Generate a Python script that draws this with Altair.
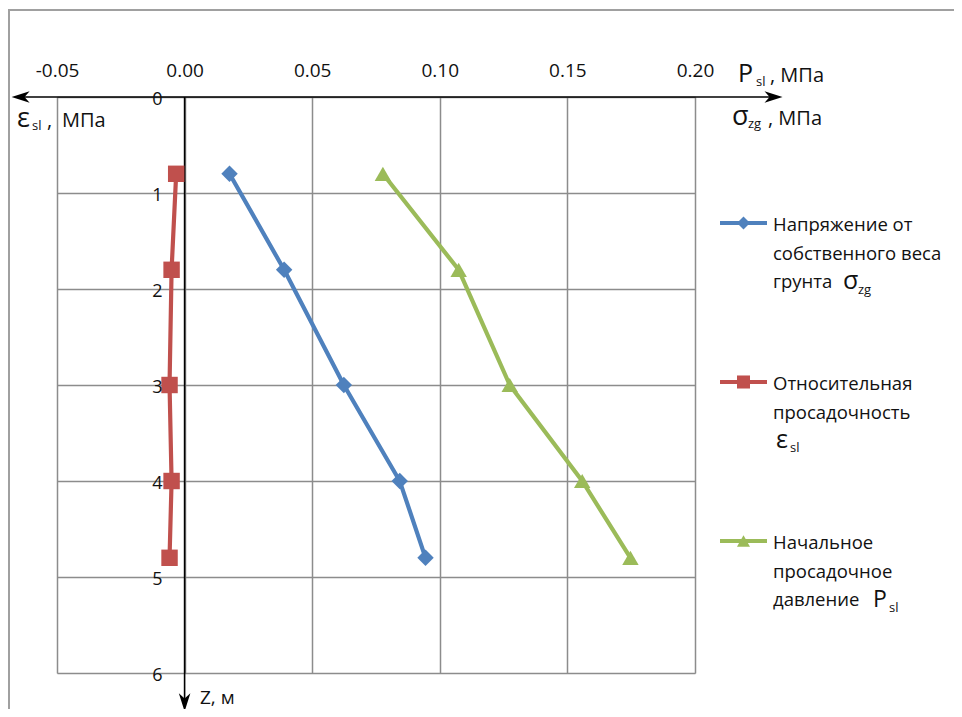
import altair as alt
import pandas as pd

# ---------------- data ----------------
depth = [0.8, 1.8, 3.0, 4.0, 4.8]                       # Z, m
sigma_zg = [0.0176, 0.0390, 0.0624, 0.0843, 0.0944]      # MPa
eps_sl = [-0.0033, -0.0051, -0.0059, -0.0051, -0.0059]
p_sl = [0.0777, 0.1074, 0.1274, 0.1558, 0.1747]          # MPa

series_keys = ["sigma", "eps", "psl"]
legend_lines = [
    ["Напряжение  от", "собственного веса", "грунта"],
    ["Относительная", "просадочность"],
    ["Начальное", "просадочное", "давление"],
]
legend_symbols = [("σ", "zg"), ("ε", "sl"), ("P", "sl")]
colors = ["#4F81BD", "#C0504D", "#9BBB59"]
shapes = ["diamond", "square", "triangle-up"]

x_ticks = [-0.05, 0.0, 0.05, 0.10, 0.15, 0.20]
y_ticks = [0, 1, 2, 3, 4, 5, 6]

FONT = "Open Sans"

rows = []
for key, vals in zip(series_keys, [sigma_zg, eps_sl, p_sl]):
    for z, v in zip(depth, vals):
        rows.append({"series": key, "x": v, "z": z})
df = pd.DataFrame(rows)

xs = alt.Scale(domain=[-0.05, 0.20], nice=False, zero=False)
ys = alt.Scale(domain=[0, 6], nice=False, zero=False, reverse=True)
cscale = alt.Scale(domain=series_keys, range=colors)
sscale = alt.Scale(domain=series_keys, range=shapes)
GRID = "#8c8c8c"

label_expr = ("datum.value < 0 ? '-' + format(-datum.value, '.2f') : "
              "format(datum.value, '.2f')")

main_x = alt.X("x:Q", scale=xs, title=None,
               axis=alt.Axis(orient="top", values=x_ticks, grid=True,
                             gridColor=GRID, gridWidth=1.5, gridOpacity=1,
                             domain=False, ticks=False, tickSize=0,
                             labelPadding=17, labelFontSize=19,
                             labelFont=FONT, labelColor="#111",
                             labelFlush=False, labelOverlap=False,
                             labelBound=False,
                             labelExpr=label_expr, title=None))
main_y = alt.Y("z:Q", scale=ys, title=None,
               axis=alt.Axis(values=y_ticks, grid=True, gridColor=GRID,
                             gridWidth=1.5, gridOpacity=1, labels=False,
                             domain=False, ticks=False, title=None))

lines = alt.Chart(df).mark_line(strokeWidth=4.2).encode(
    x=main_x, y=main_y,
    color=alt.Color("series:N", scale=cscale, legend=None),
    order=alt.Order("z:Q"),
)
points = alt.Chart(df).mark_point(filled=True, opacity=1, size=270).encode(
    x=alt.X("x:Q", title=None), y=alt.Y("z:Q", title=None),
    color=alt.Color("series:N", scale=cscale, legend=None),
    shape=alt.Shape("series:N", scale=sscale, legend=None),
)

one = pd.DataFrame({"d": [0]})

# axis arrows (black) through the data scales
h_rule = alt.Chart(one).mark_rule(color="black", strokeWidth=1.6).encode(
    x=alt.X(datum=-0.064), x2=alt.X2(datum=0.230), y=alt.Y(datum=0))
v_rule = alt.Chart(one).mark_rule(color="black", strokeWidth=1.6).encode(
    x=alt.X(datum=0), y=alt.Y(datum=0), y2=alt.Y2(datum=6.33))

ARROW = "M0,0L-1,-0.32L-0.72,0L-1,0.32Z"


def arrow_head(xd, yd, ang):
    return alt.Chart(one).mark_point(
        shape=ARROW, filled=True, color="black", opacity=1, size=1300,
        angle=ang, strokeWidth=0).encode(
        x=alt.X(datum=xd), y=alt.Y(datum=yd))


arrows = [arrow_head(-0.0678, 0, 180), arrow_head(0.2343, 0, 0),
          arrow_head(0, 6.4, 90)]

# y tick labels along the Z axis (x = 0)
ylab = alt.Chart(pd.DataFrame({"z": y_ticks})).mark_text(
    align="right", baseline="middle", dx=-22, dy=3, fontSize=18,
    font=FONT, color="#111").encode(
    x=alt.X(datum=0), y=alt.Y("z:Q", title=None), text=alt.Text("z:Q"))


def label(text, x, y, size, baseline="alphabetic", align="left"):
    return alt.Chart(pd.DataFrame({"t": [text]})).mark_text(
        align=align, baseline=baseline, fontSize=size, font=FONT,
        color="#111").encode(x=alt.value(x), y=alt.value(y), text="t:N")


# axis titles (pixel offsets from the plot origin)
titles = [
    label("P", 681, -15, 25), label("sl", 699, -11, 13),
    label(", МПа", 713, -15, 20),
    label("σ", 675, 28, 27), label("zg", 691, 31, 13),
    label(", МПа", 711, 28, 20),
    label("ε", -40, 30, 27), label("sl", -25, 33, 13),
    label(",", -10, 30, 20), label("МПа", 5, 30, 20),
    label("Z, м", 143, 601, 19, baseline="middle"),
]

# legend
leg_layers = []
LEG_Y0, LEG_STEP, LINE_H = 126, 159, 28.5
sym_x = [786, 719, 816]
sym_size = [25, 25, 23]
sub_dx = [15, 14, 16]
sub_dy = [5, 4, 5]
for i, key in enumerate(series_keys):
    ly = LEG_Y0 + LEG_STEP * i
    d = pd.DataFrame({"series": [key]})
    leg_layers.append(alt.Chart(d).mark_rule(strokeWidth=4).encode(
        x=alt.value(663), x2=alt.value(710), y=alt.value(ly),
        color=alt.Color("series:N", scale=cscale, legend=None)))
    leg_layers.append(alt.Chart(d).mark_point(
        filled=True, opacity=1, size=170).encode(
        x=alt.value(686.5), y=alt.value(ly),
        color=alt.Color("series:N", scale=cscale, legend=None),
        shape=alt.Shape("series:N", scale=sscale, legend=None)))
    for j, txt in enumerate(legend_lines[i]):
        leg_layers.append(label(txt, 716, ly + 2 + LINE_H * j, 18.5,
                                baseline="middle"))
    sy = ly + 57 + 9
    sym, sub = legend_symbols[i]
    leg_layers.append(label(sym, sym_x[i], sy, sym_size[i]))
    leg_layers.append(label(sub, sym_x[i] + sub_dx[i], sy + sub_dy[i], 13))

border = alt.Chart(one).mark_rect(
    fillOpacity=0, stroke="#a0a0a0", strokeWidth=2).encode(
    x=alt.value(-48), y=alt.value(-87), x2=alt.value(1000), y2=alt.value(1000))

chart = alt.layer(
    border, lines, h_rule, v_rule, *arrows, points, ylab, *titles, *leg_layers
).properties(
    width=638, height=576,
    padding={"left": 49, "top": 89, "right": 259, "bottom": 36},
    autosize="none",
).configure_view(stroke=None).configure(background="white")

chart.save("out.html", embed_options={"renderer": "svg", "actions": False})
